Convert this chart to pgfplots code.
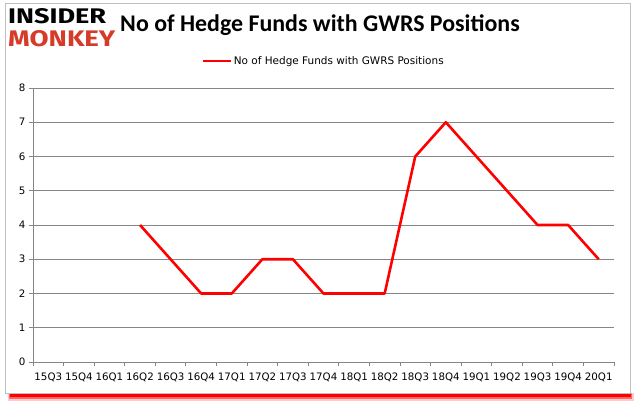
\documentclass[border=0pt]{standalone}
\usepackage{pgfplots}
\pgfplotsset{compat=1.18}
\usepackage{graphicx}
\usepackage{fontspec}
\setmainfont{DejaVu Sans}
\newfontfamily\titlefont{Carlito}
\newfontfamily\logofont{Fira Sans}
\definecolor{gridgray}{RGB}{134,134,134}
\definecolor{monkeyred}{RGB}{214,58,40}
\begin{document}
\begin{tikzpicture}
% page frame with red shadow
\fill[white] (0,0) rectangle (635bp,405bp);
\fill[red!20] (8bp,4bp) rectangle (634bp,12bp);
\fill[red!60] (9bp,6bp) rectangle (632bp,12bp);
\fill[red] (10bp,8bp) rectangle (631bp,12bp);
\draw[gray!50, fill=white] (5bp,12bp) rectangle (630bp,402bp);
% logo
\node[anchor=south west, inner sep=0pt] at (8bp,381bp)
  {\resizebox{98bp}{15bp}{\logofont\bfseries INSIDER}};
\node[anchor=south west, inner sep=0pt, text=monkeyred] at (8bp,358bp)
  {\resizebox{107bp}{16bp}{\logofont\bfseries MONKEY}};
% title
\node[inner sep=0pt] at (320bp,380bp) {\titlefont\fontsize{24}{24}\selectfont\bfseries No of Hedge Funds with GWRS Positions};
\begin{axis}[
  at={(33bp,43bp)}, anchor=south west,
  width=581bp, height=274bp, scale only axis,
  xmin=-0.5, xmax=18.5, ymin=0, ymax=8,
  axis x line*=bottom, axis y line*=left,
  axis line style={gridgray, line width=0.8pt, -},
  xtick={0,...,18},
  xticklabels={15Q3,15Q4,16Q1,16Q2,16Q3,16Q4,17Q1,17Q2,17Q3,17Q4,18Q1,18Q2,18Q3,18Q4,19Q1,19Q2,19Q3,19Q4,20Q1},
  major x tick style={draw=none},
  minor xtick={-0.5,0.5,...,18.5},
  minor tick length=4bp,
  minor x tick style={gridgray, line width=0.8pt},
  ytick={0,...,8},
  ymajorgrids, grid style={gridgray, line width=0.8pt},
  major y tick style={gridgray, line width=0.8pt},
  major tick length=4bp,
  tick align=outside,
  /pgf/number format/assume math mode=true,
  tick label style={font=\fontsize{10.3}{11}\selectfont},
  xticklabel style={yshift=-3bp},
  legend style={at={(0.5,1.0)}, anchor=south, yshift=20bp, draw=none, fill=none,
    font=\fontsize{10.5}{11}\selectfont, inner sep=0pt},
  legend image code/.code={\draw[#1] (0bp,0bp) -- (28bp,0bp);},
]
\addplot[red, line width=2.6pt, line join=round] coordinates {
  (3,4) (4,3) (5,2) (6,2) (7,3) (8,3) (9,2) (10,2) (11,2)
  (12,6) (13,7) (14,6) (15,5) (16,4) (17,4) (18,3)};
\addlegendentry{No of Hedge Funds with GWRS Positions}
\end{axis}
\end{tikzpicture}
\end{document}
